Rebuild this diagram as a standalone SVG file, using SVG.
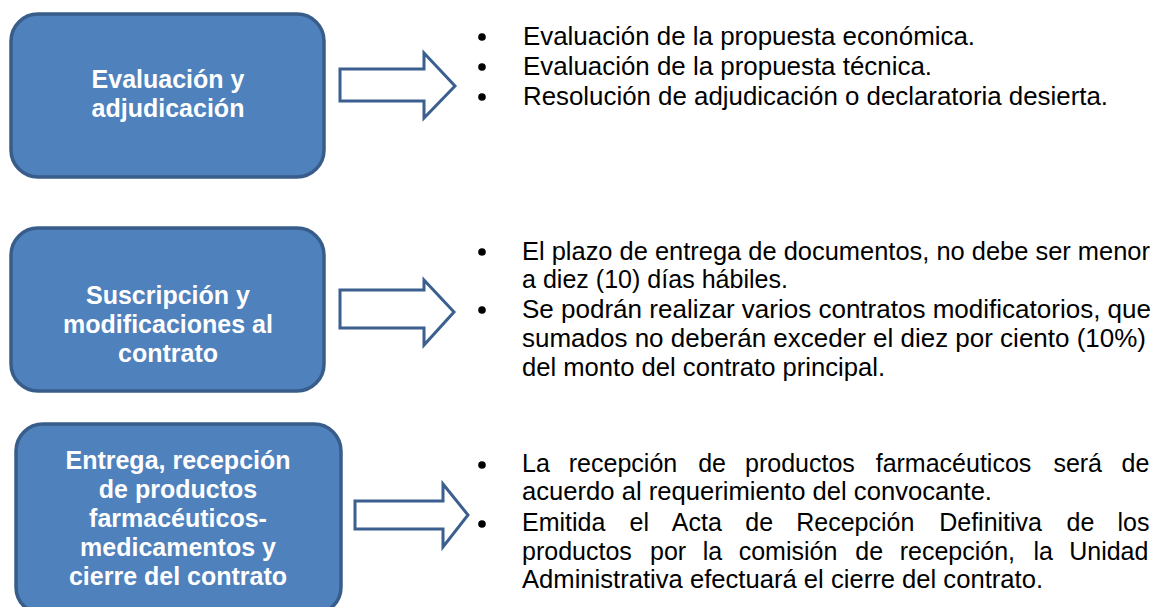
<svg xmlns="http://www.w3.org/2000/svg" width="1155" height="607" viewBox="0 0 1155 607">
<defs>
<style>
.box{fill:#4f81bd;stroke:#385d8a;stroke-width:3.5}
.arr{fill:#ffffff;stroke:#3b5f8e;stroke-width:3;stroke-linejoin:miter}
.bt{font-family:"Liberation Sans",Arial,sans-serif;font-weight:bold;font-size:25px;fill:#ffffff;text-anchor:middle}
.tx{font-family:"Liberation Sans",Arial,sans-serif;font-size:25px;fill:#000000}
.bul{fill:#000000}
</style>
</defs>
<rect width="1155" height="607" fill="#ffffff"/>

<g id="node-evaluacion">
<rect class="box" x="11" y="14" width="313" height="163" rx="27" ry="27"/>
<text class="bt"><tspan x="168" y="88">Evaluación y</tspan><tspan x="168" y="117">adjudicación</tspan></text>
</g>

<g id="node-suscripcion">
<rect class="box" x="11" y="228" width="313" height="163" rx="27" ry="27"/>
<text class="bt"><tspan x="168" y="304">Suscripción y</tspan><tspan x="168" y="333">modificaciones al</tspan><tspan x="168" y="362">contrato</tspan></text>
</g>

<g id="node-entrega">
<rect class="box" x="16" y="424" width="325" height="190" rx="27" ry="27"/>
<text class="bt"><tspan x="178" y="469">Entrega, recepción</tspan><tspan x="178" y="498">de productos</tspan><tspan x="178" y="527">farmacéuticos-</tspan><tspan x="178" y="556">medicamentos y</tspan><tspan x="178" y="585">cierre del contrato</tspan></text>
</g>

<g id="connectors">
<polygon class="arr" points="340,69 424,69 424,53 455,86 424,118 424,101 340,101"/>
<polygon class="arr" points="340,290 424,290 424,280 454,312 424,345 424,328 340,328"/>
<polygon class="arr" points="355,501 443,501 443,484 468,515 443,547 443,529 355,529"/>
</g>

<g id="list-evaluacion">
<circle class="bul" cx="482" cy="37" r="3.8"/>
<circle class="bul" cx="482" cy="67" r="3.8"/>
<circle class="bul" cx="482" cy="97" r="3.8"/>
<text class="tx" x="523" y="45" textLength="452" lengthAdjust="spacingAndGlyphs">Evaluación de la propuesta económica.</text>
<text class="tx" x="523" y="75" textLength="409" lengthAdjust="spacingAndGlyphs">Evaluación de la propuesta técnica.</text>
<text class="tx" x="523" y="105" textLength="585" lengthAdjust="spacingAndGlyphs">Resolución de adjudicación o declaratoria desierta.</text>
</g>

<g id="list-suscripcion">
<circle class="bul" cx="482" cy="252" r="3.8"/>
<circle class="bul" cx="482" cy="310" r="3.8"/>
<text class="tx" x="522" y="260" textLength="628" lengthAdjust="spacingAndGlyphs">El plazo de entrega de documentos, no debe ser menor</text>
<text class="tx" x="522" y="288" textLength="266" lengthAdjust="spacingAndGlyphs">a diez (10) días hábiles.</text>
<text class="tx" x="522" y="318" textLength="629" lengthAdjust="spacingAndGlyphs">Se podrán realizar varios contratos modificatorios, que</text>
<text class="tx" x="522" y="347" textLength="624" lengthAdjust="spacingAndGlyphs">sumados no deberán exceder el diez por ciento (10%)</text>
<text class="tx" x="522" y="376" textLength="363" lengthAdjust="spacingAndGlyphs">del monto del contrato principal.</text>
</g>

<g id="list-entrega">
<circle class="bul" cx="482" cy="465" r="3.8"/>
<circle class="bul" cx="482" cy="524" r="3.8"/>
<text class="tx" y="472"><tspan x="522">La</tspan><tspan x="568.8">recepción</tspan><tspan x="698.2">de</tspan><tspan x="745">productos</tspan><tspan x="875.7">farmacéuticos</tspan><tspan x="1053.4">será</tspan><tspan x="1121.5">de</tspan></text>
<text class="tx" x="522" y="500" textLength="470" lengthAdjust="spacingAndGlyphs">acuerdo al requerimiento del convocante.</text>
<text class="tx" y="531"><tspan x="522">Emitida</tspan><tspan x="629.5">el</tspan><tspan x="671.8">Acta</tspan><tspan x="745.3">de</tspan><tspan x="796.2">Recepción</tspan><tspan x="939.2">Definitiva</tspan><tspan x="1066.6">de</tspan><tspan x="1117.5">los</tspan></text>
<text class="tx" y="560"><tspan x="522">productos</tspan><tspan x="650">por</tspan><tspan x="702.8">la</tspan><tspan x="738.7">comisión</tspan><tspan x="855.3">de</tspan><tspan x="899.7">recepción,</tspan><tspan x="1033.4">la</tspan><tspan x="1069.2">Unidad</tspan></text>
<text class="tx" x="522" y="588" textLength="521" lengthAdjust="spacingAndGlyphs">Administrativa efectuará el cierre del contrato.</text>
</g>
</svg>
